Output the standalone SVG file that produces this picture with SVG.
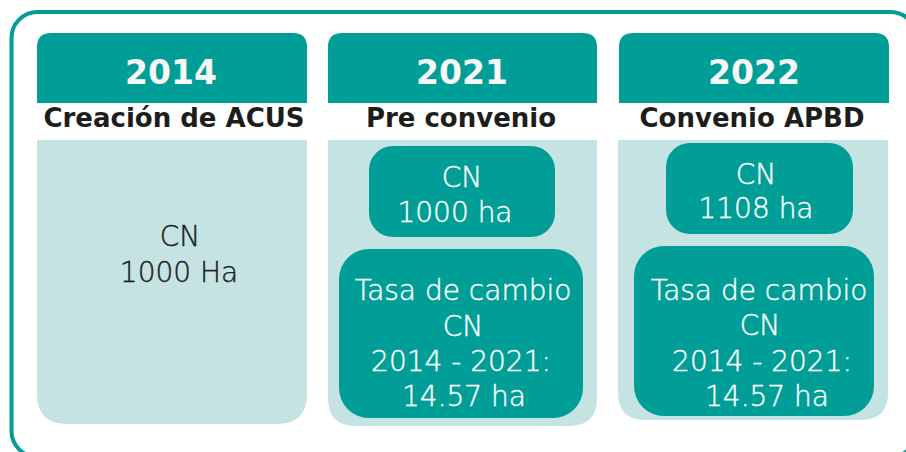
<svg xmlns="http://www.w3.org/2000/svg" width="906" height="452" viewBox="0 0 906 452">
<style>
.teal{fill:#009e96}
.light{fill:#c5e3e3}
.yr{font-family:"DejaVu Sans",sans-serif;font-weight:bold;font-size:33px;fill:#f7f7f7;text-anchor:middle}
.ttl{font-family:"DejaVu Sans",sans-serif;font-weight:bold;font-size:26px;fill:#1d1d1b;text-anchor:middle}
.tw{font-family:"DejaVu Sans",sans-serif;font-weight:200;font-size:28px;fill:#ffffff;stroke:#ffffff;stroke-width:0.4;text-anchor:middle}
.td{font-family:"DejaVu Sans",sans-serif;font-weight:200;font-size:28px;fill:#1d1d1b;stroke:#1d1d1b;stroke-width:0.4;text-anchor:middle}
</style>
<rect width="906" height="452" fill="#ffffff"/>
<rect x="11.5" y="12" width="905" height="445" rx="26" fill="none" stroke="#009e96" stroke-width="4"/>
<g id="col2014">
<path class="teal" d="M37 103 V47 Q37 33 51 33 H293 Q307 33 307 47 V103 Z"/>
<text class="yr" x="171" y="84">2014</text>
<text class="ttl" x="174" y="127">Creación de ACUS</text>
<path class="light" d="M37 140 H307 V394 Q307 424 277 424 H67 Q37 424 37 394 Z"/>
<text class="td" x="180" y="246">CN</text>
<text class="td" x="179" y="282">1000 Ha</text>
</g>
<g id="col2021">
<path class="teal" d="M328 103 V47 Q328 33 342 33 H583 Q597 33 597 47 V103 Z"/>
<text class="yr" x="462" y="84">2021</text>
<text class="ttl" x="461" y="127">Pre convenio</text>
<path class="light" d="M328 140 H597 V398 Q597 426 569 426 H356 Q328 426 328 398 Z"/>
</g>
<g id="cn2021">
<rect class="teal" x="369" y="146" width="186" height="91" rx="24"/>
<text class="tw" x="462" y="187">CN</text>
<text class="tw" x="455" y="222">1000 ha</text>
</g>
<g id="tasa2021">
<rect class="teal" x="339" y="249" width="244" height="169" rx="30"/>
<text class="tw" x="463" y="300">Tasa de cambio</text>
<text class="tw" x="463" y="336">CN</text>
<text class="tw" x="461" y="371">2014 - 2021:</text>
<text class="tw" x="464" y="406">14.57 ha</text>
</g>
<g id="col2022">
<path class="teal" d="M619 103 V47 Q619 33 633 33 H875 Q889 33 889 47 V103 Z"/>
<text class="yr" x="754" y="84">2022</text>
<text class="ttl" x="752" y="127">Convenio APBD</text>
<path class="light" d="M618 140 H888 V393 Q888 420 861 420 H645 Q618 420 618 393 Z"/>
</g>
<g id="cn2022">
<rect class="teal" x="666" y="143" width="187" height="91" rx="24"/>
<text class="tw" x="756" y="184">CN</text>
<text class="tw" x="756" y="218">1108 ha</text>
</g>
<g id="tasa2022">
<rect class="teal" x="634" y="246" width="240" height="170" rx="30"/>
<text class="tw" x="759" y="300">Tasa de cambio</text>
<text class="tw" x="760" y="335">CN</text>
<text class="tw" x="762" y="371">2014 - 2021:</text>
<text class="tw" x="767" y="406">14.57 ha</text>
</g>
</svg>
